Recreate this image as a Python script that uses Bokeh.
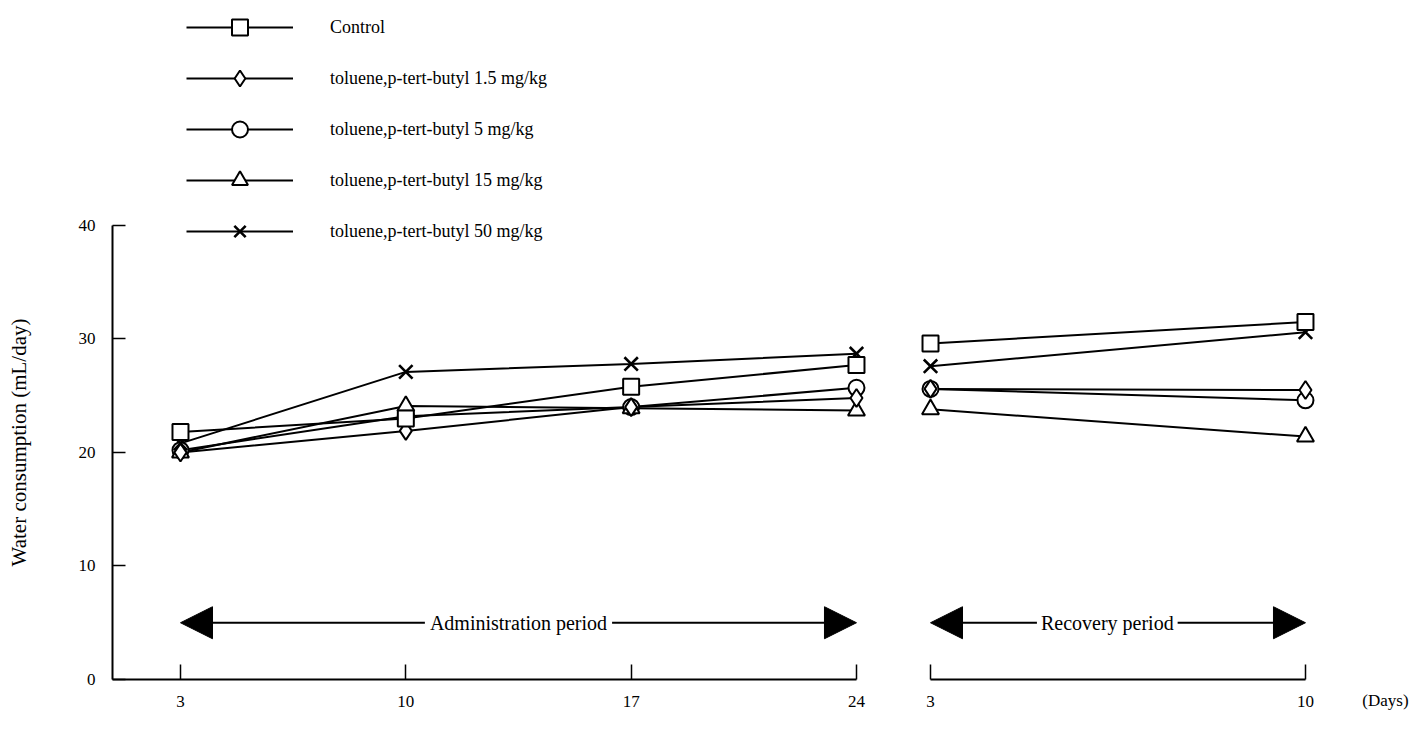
from bokeh.plotting import figure
from bokeh.layouts import row
from bokeh.models import Range1d, FixedTicker, Arrow, NormalHead, Label
from bokeh.embed import file_html
from bokeh.resources import INLINE

# ---------------- data ----------------
days_admin = [3, 10, 17, 24]
days_recovery = [3, 10]
tick_labels_admin = ["3", "10", "17", "24"]
tick_labels_recovery = ["3", "10"]
y_ticks = [0, 10, 20, 30, 40]

series_names = [
    "Control",
    "toluene,p-tert-butyl 1.5 mg/kg",
    "toluene,p-tert-butyl 5 mg/kg",
    "toluene,p-tert-butyl 15 mg/kg",
    "toluene,p-tert-butyl 50 mg/kg",
]
control_admin = [21.8, 23.0, 25.8, 27.7]
control_recovery = [29.6, 31.5]
dose1_5_admin = [20.0, 21.9, 24.0, 24.8]
dose1_5_recovery = [25.6, 25.5]
dose5_admin = [20.2, 23.2, 24.0, 25.7]
dose5_recovery = [25.6, 24.6]
dose15_admin = [20.0, 24.1, 23.9, 23.7]
dose15_recovery = [23.8, 21.4]
dose50_admin = [20.8, 27.1, 27.8, 28.7]
dose50_recovery = [27.6, 30.6]

admin_period = (3, 24)
recovery_period = (3, 10)
period_arrow_y = 5
y_title = "Water consumption (mL/day)"

# ---------------- styling ----------------
FONT = "Liberation Serif"
markers = ["square", "diamond", "circle", "triangle", "x"]
marker_sizes = [16, 18, 16, 17, 19]
marker_lw = [2, 2, 2, 2, 2.6]
admin_values = [control_admin, dose1_5_admin, dose5_admin, dose15_admin, dose50_admin]
recovery_values = [control_recovery, dose1_5_recovery, dose5_recovery, dose15_recovery, dose50_recovery]
draw_order = [2, 3, 1, 4, 0]

H = 734
FRAME_BOTTOM = 55
y_range = Range1d(0, 59.82)


def style_common(p):
    p.outline_line_color = None
    p.xgrid.visible = False
    p.ygrid.visible = False
    p.background_fill_color = "white"
    p.border_fill_color = "white"
    p.min_border_top = 0
    p.min_border_bottom = FRAME_BOTTOM


def style_xaxis(ax, ticks, labels, bounds):
    ax.ticker = FixedTicker(ticks=ticks)
    ax.major_label_overrides = {t: l for t, l in zip(ticks, labels)}
    ax.bounds = bounds
    ax.minor_tick_line_color = None
    ax.major_tick_in = 15
    ax.major_tick_out = 0
    ax.major_tick_line_width = 1.5
    ax.axis_line_width = 2
    ax.major_label_standoff = 16
    ax.major_label_text_font = FONT
    ax.major_label_text_font_size = "17px"
    ax.major_label_text_color = "black"


# ---------------- narrow strip holding the y-axis title ----------------
p0 = figure(width=40, height=H, x_range=Range1d(0, 40), y_range=y_range,
            output_backend="svg", toolbar_location=None,
            x_axis_location=None, y_axis_location=None)
style_common(p0)
p0.min_border_left = 0
p0.min_border_right = 0
p0.add_layout(Label(x=18, y=20, y_offset=10, angle=90, angle_units="deg",
                    text=y_title, text_align="center", text_baseline="middle",
                    text_font=FONT, text_font_size="21px", text_color="black"))

# ---------------- left (administration) ----------------
p1 = figure(width=853, height=H, x_range=Range1d(0.888, 25.15), y_range=y_range,
            output_backend="svg", toolbar_location=None)
style_common(p1)
p1.min_border_left = 72
p1.min_border_right = 0
style_xaxis(p1.xaxis[0], days_admin, tick_labels_admin, (0.888, 24))

ya = p1.yaxis[0]
ya.ticker = FixedTicker(ticks=y_ticks)
ya.bounds = (0, 40)
ya.minor_tick_line_color = None
ya.major_tick_in = 13
ya.major_tick_out = 0
ya.major_tick_line_width = 1.5
ya.axis_line_width = 2
ya.major_label_standoff = 17
ya.major_label_text_font = FONT
ya.major_label_text_font_size = "17px"
ya.major_label_text_color = "black"

for i in range(5):
    p1.line(days_admin, admin_values[i], line_color="black", line_width=2,
            legend_label=series_names[i])
for i in draw_order:
    p1.scatter(days_admin, admin_values[i], marker=markers[i], size=marker_sizes[i],
               fill_color="white", line_color="black", line_width=marker_lw[i],
               legend_label=series_names[i])

lg = p1.legend[0]
items = {it.label["value"]: it for it in lg.items}
lg.items = [items[n] for n in series_names]
lg.location = (74, 428)
lg.glyph_width = 107
lg.glyph_height = 40
lg.spacing = 11
lg.label_standoff = 37
lg.padding = 0
lg.margin = 0
lg.border_line_color = None
lg.background_fill_alpha = 0
lg.label_text_font = FONT
lg.label_text_font_size = "18px"
lg.label_text_color = "black"

p1.add_layout(Arrow(x_start=admin_period[0], x_end=admin_period[1],
                    y_start=period_arrow_y, y_end=period_arrow_y,
                    line_width=2, line_color="black",
                    start=NormalHead(size=32, fill_color="black", line_color="black"),
                    end=NormalHead(size=32, fill_color="black", line_color="black")))
p1.add_layout(Label(x=(admin_period[0] + admin_period[1]) / 2, y=period_arrow_y,
                    text="Administration period", text_align="center",
                    text_baseline="middle", text_font=FONT, text_font_size="20px",
                    text_color="black", background_fill_color="white", padding=5))

# ---------------- right (recovery) ----------------
p2 = figure(width=522, height=H, x_range=Range1d(2.309, 11.494), y_range=y_range,
            output_backend="svg", toolbar_location=None, y_axis_location=None)
style_common(p2)
p2.min_border_left = 0
p2.min_border_right = 30
xb = p2.xaxis[0]
style_xaxis(xb, days_recovery, tick_labels_recovery, recovery_period)
xb.axis_label = "(Days)"
xb.axis_label_align = "end"
xb.axis_label_standoff = -19
xb.axis_label_text_font = FONT
xb.axis_label_text_font_size = "17px"
xb.axis_label_text_font_style = "normal"
xb.axis_label_text_color = "black"

for i in range(5):
    p2.line(days_recovery, recovery_values[i], line_color="black", line_width=2)
for i in draw_order:
    p2.scatter(days_recovery, recovery_values[i], marker=markers[i], size=marker_sizes[i],
               fill_color="white", line_color="black", line_width=marker_lw[i])

p2.add_layout(Arrow(x_start=recovery_period[0], x_end=recovery_period[1],
                    y_start=period_arrow_y, y_end=period_arrow_y,
                    line_width=2, line_color="black",
                    start=NormalHead(size=32, fill_color="black", line_color="black"),
                    end=NormalHead(size=32, fill_color="black", line_color="black")))
p2.add_layout(Label(x=(recovery_period[0] + recovery_period[1]) / 2 - 0.2, y=period_arrow_y,
                    text="Recovery period", text_align="center",
                    text_baseline="middle", text_font=FONT, text_font_size="20px",
                    text_color="black", background_fill_color="white", padding=4))

layout = row(p0, p1, p2)
open("out.html", "w").write(file_html(layout, INLINE))
